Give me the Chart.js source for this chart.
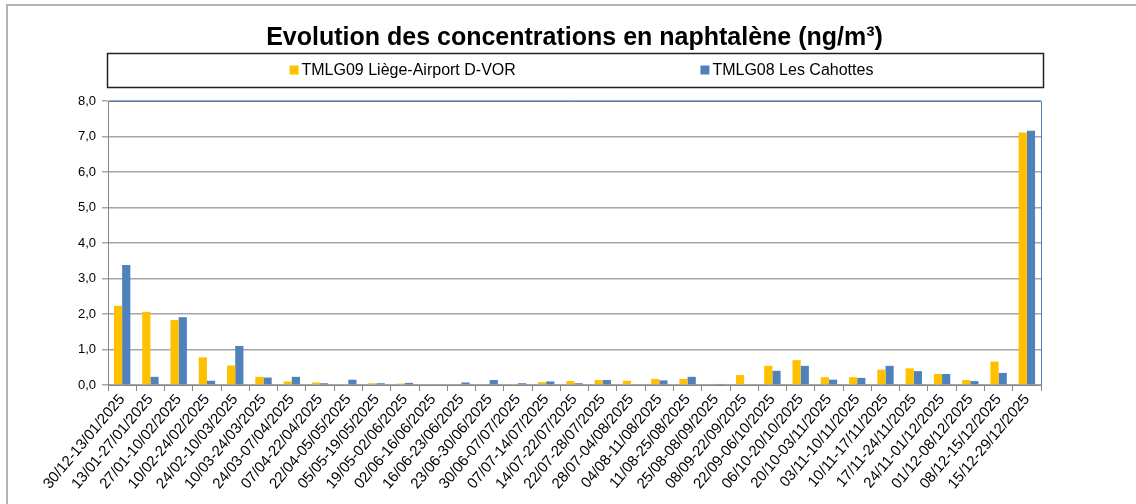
<!DOCTYPE html>
<html>
<head>
<meta charset="utf-8">
<script src="https://cdn.jsdelivr.net/npm/chart.js@4.4.1/dist/chart.umd.min.js"></script>
<style>
  html, body { margin: 0; padding: 0; background: #fff; }
  #wrap { width: 1136px; height: 504px; }
</style>
</head>
<body>
<div id="wrap"><canvas id="naphChart"></canvas></div>
<script>
const periodes = [
  '30/12-13/01/2025', '13/01-27/01/2025', '27/01-10/02/2025', '10/02-24/02/2025',
  '24/02-10/03/2025', '10/03-24/03/2025', '24/03-07/04/2025', '07/04-22/04/2025',
  '22/04-05/05/2025', '05/05-19/05/2025', '19/05-02/06/2025', '02/06-16/06/2025',
  '16/06-23/06/2025', '23/06-30/06/2025', '30/06-07/07/2025', '07/07-14/07/2025',
  '14/07-22/07/2025', '22/07-28/07/2025', '28/07-04/08/2025', '04/08-11/08/2025',
  '11/08-25/08/2025', '25/08-08/09/2025', '08/09-22/09/2025', '22/09-06/10/2025',
  '06/10-20/10/2025', '20/10-03/11/2025', '03/11-10/11/2025', '10/11-17/11/2025',
  '17/11-24/11/2025', '24/11-01/12/2025', '01/12-08/12/2025', '08/12-15/12/2025',
  '15/12-29/12/2025'
];

// TMLG09 Liège-Airport D-VOR
const liegeAirport = [
  2.23, 2.06, 1.83, 0.78, 0.55, 0.23, 0.10, 0.07, 0.03, 0.05, 0.04, 0.02,
  0.02, 0.00, 0.03, 0.08, 0.11, 0.14, 0.12, 0.17, 0.17, 0.00, 0.28, 0.54,
  0.70, 0.22, 0.22, 0.43, 0.47, 0.31, 0.14, 0.66, 7.11
];

// TMLG08 Les Cahottes
const lesCahottes = [
  3.38, 0.23, 1.91, 0.12, 1.10, 0.21, 0.23, 0.05, 0.15, 0.05, 0.06, 0.02,
  0.07, 0.14, 0.05, 0.10, 0.05, 0.14, 0.00, 0.13, 0.23, 0.03, 0.00, 0.40,
  0.54, 0.15, 0.20, 0.54, 0.39, 0.31, 0.11, 0.34, 7.16
];

const yTicks = [0, 1, 2, 3, 4, 5, 6, 7, 8];

const titre = 'Evolution des concentrations en naphtalène (ng/m³)';

const FONT = "'Liberation Sans', Arial, sans-serif";

// cadre extérieur, titre, bord bleu de la zone de tracé et légende encadrée
const decorPlugin = {
  id: 'decor',
  beforeDraw(chart) {
    const c = chart.ctx;
    c.save();
    c.strokeStyle = '#b3b3b3';
    c.lineWidth = 2;
    c.beginPath();
    c.moveTo(7, 600);
    c.lineTo(7, 5);
    c.lineTo(1200, 5);
    c.stroke();
    c.restore();
  },
  afterDraw(chart) {
    const c = chart.ctx;
    const a = chart.chartArea;
    c.save();
    c.strokeStyle = '#4f81bd';
    c.lineWidth = 1;
    c.beginPath();
    c.moveTo(a.left, a.top + 0.5);
    c.lineTo(a.right + 0.5, a.top + 0.5);
    c.lineTo(a.right + 0.5, a.bottom);
    c.stroke();

    // titre
    c.fillStyle = '#000';
    c.font = 'bold 25px ' + FONT;
    c.textAlign = 'center';
    c.textBaseline = 'middle';
    c.fillText(titre, (a.left + a.right) / 2, a.top - 63);

    // légende
    const bx = a.left - 1, by = a.top - 48, bw = a.right - a.left + 3, bh = 34;
    c.strokeStyle = '#222';
    c.lineWidth = 1.5;
    c.strokeRect(bx + 0.5, by + 0.5, bw, bh);
    c.font = '16px ' + FONT;
    c.textAlign = 'left';
    const starts = [0.195, 0.634];
    chart.data.datasets.forEach((ds, i) => {
      const x = bx + bw * starts[i];
      const y = by + bh / 2;
      c.fillStyle = ds.backgroundColor;
      c.fillRect(x, y - 4.5, 9, 9);
      c.fillStyle = '#000';
      c.fillText(ds.label, x + 12, y + 1);
    });
    c.restore();
  }
};

const ctx = document.getElementById('naphChart').getContext('2d');
const naphChart = new Chart(ctx, {
  type: 'bar',
  data: {
    labels: periodes,
    datasets: [
      {
        label: 'TMLG09 Liège-Airport D-VOR',
        data: liegeAirport,
        backgroundColor: '#ffc000',
        borderWidth: 0
      },
      {
        label: 'TMLG08 Les Cahottes',
        data: lesCahottes,
        backgroundColor: '#4f81bd',
        borderWidth: 0
      }
    ]
  },
  options: {
    responsive: true,
    maintainAspectRatio: false,
    animation: false,
    categoryPercentage: 0.58,
    barPercentage: 1,
    layout: { padding: { left: 20, right: 95, top: 101, bottom: 0 } },
    plugins: {
      legend: { display: false },
      tooltip: { enabled: false },
      title: { display: false }
    },
    scales: {
      x: {
        afterFit(scale) { scale.height = 119; },
        grid: {
          offset: true,
          drawOnChartArea: false,
          color: '#868686',
          tickLength: 6
        },
        border: { color: '#868686', width: 1 },
        ticks: {
          color: '#000',
          font: { family: FONT, size: 15 },
          maxRotation: 50,
          minRotation: 50,
          autoSkip: false,
          padding: 0
        }
      },
      y: {
        min: 0,
        max: 8,
        afterFit(scale) { scale.width = 88; },
        afterBuildTicks(scale) {
          scale.ticks = yTicks.map(v => ({ value: v }));
        },
        grid: {
          color: '#a6a6a6',
          lineWidth: 1.5,
          tickLength: 6
        },
        border: { color: '#868686', width: 1 },
        ticks: {
          color: '#000',
          font: { family: FONT, size: 13 },
          padding: 6,
          callback: v => v.toFixed(1).replace('.', ',')
        }
      }
    }
  },
  plugins: [decorPlugin]
});
</script>
</body>
</html>
